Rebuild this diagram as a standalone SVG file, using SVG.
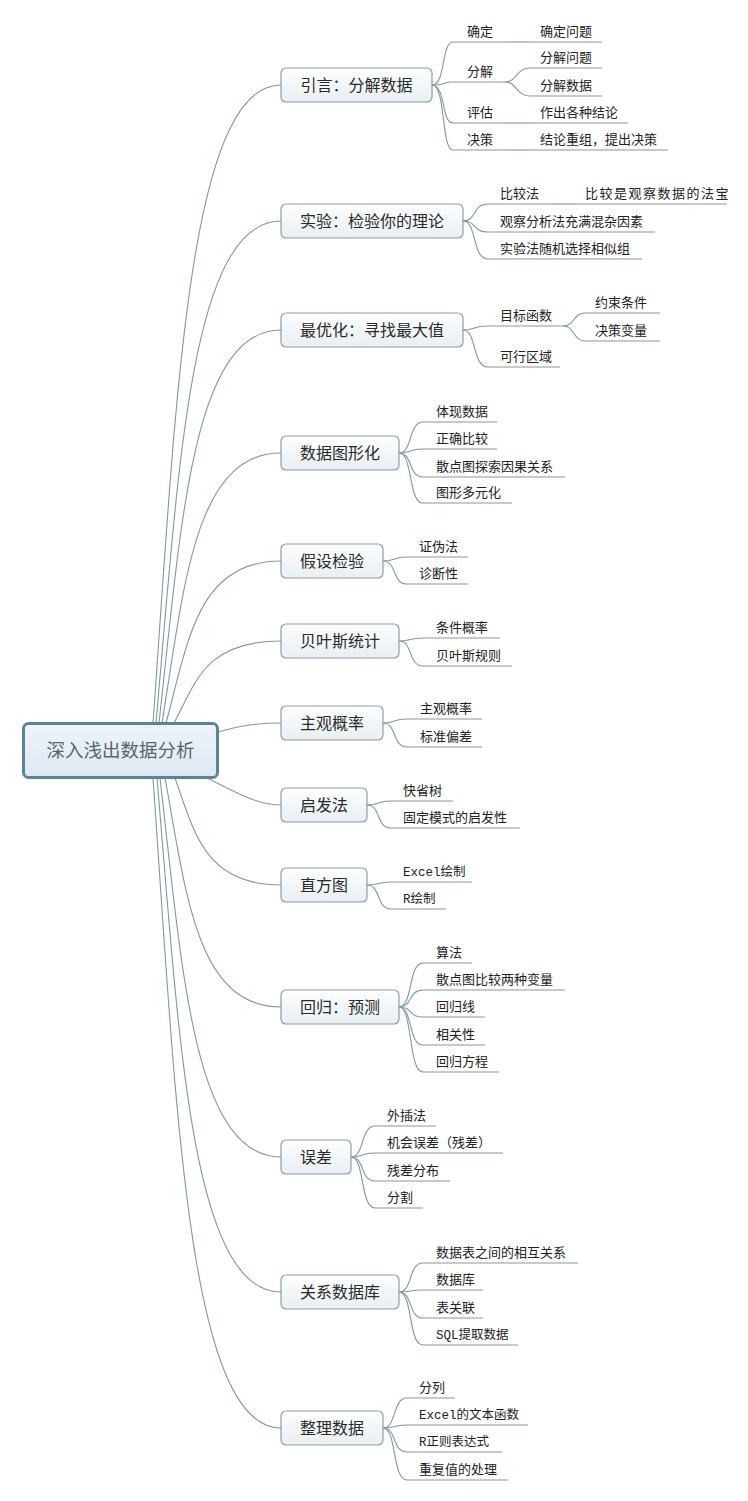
<svg xmlns="http://www.w3.org/2000/svg" width="748" height="1501" viewBox="0 0 748 1501">
<defs>
<linearGradient id="g1" x1="0" y1="0" x2="0" y2="1"><stop offset="0" stop-color="#fdfefe"/><stop offset="1" stop-color="#e8eef2"/></linearGradient>
<linearGradient id="g0" x1="0" y1="0" x2="0" y2="1"><stop offset="0" stop-color="#eef4fa"/><stop offset="1" stop-color="#dde8f2"/></linearGradient>
</defs>
<style>
text{font-family:"Noto Sans CJK SC","Noto Sans",sans-serif;fill:#222}
.b1{fill:url(#g1);stroke:#8a9ea8;stroke-width:1.2}
.t1{font-size:16px;fill:#2a2a2a;text-anchor:middle}
.t2{font-size:13px}
.m{font-family:"Liberation Mono","Noto Sans CJK SC",monospace;font-size:12.5px}
.u{stroke:#8a989e;stroke-width:1.2;fill:none}
.c{stroke:#7f99a3;stroke-width:1.1;fill:none}
</style>
<rect width="748" height="1501" fill="#fff"/>
<g id="connectors">
<path class="c" d="M153,723 C176,404 187.6,85 281,85"/>
<path class="c" d="M156,723 C178.5,472 189.8,221 281,221"/>
<path class="c" d="M159,723 C181,526 192,330 281,330"/>
<path class="c" d="M162,723 C184,588 194,453 281,453"/>
<path class="c" d="M166,723 C188,642 197,561 281,561"/>
<path class="c" d="M174,723 C196,682 205,641 281,641"/>
<path class="c" d="M218,732 C240,726 255,723 281,723"/>
<path class="c" d="M207,778 C230,789 255,805 281,805"/>
<path class="c" d="M175,778 C194,831 204,885 281,885"/>
<path class="c" d="M165,778 C186,892 196,1007 281,1007"/>
<path class="c" d="M160,778 C182,967 193,1157 281,1157"/>
<path class="c" d="M157,778 C179,1035 190.5,1292 281,1292"/>
<path class="c" d="M153,778 C176,1103 187.6,1428 281,1428"/>
<!-- level 2 -->
<path class="c" d="M432,85 C446,85 441,42 453,42"/>
<path class="c" d="M432,85 C446,85 441,82 453,82"/>
<path class="c" d="M432,85 C446,85 441,123 453,123"/>
<path class="c" d="M432,85 C446,85 441,150 453,150"/>
<path class="c" d="M463,221 C477,221 472,204 488,204"/>
<path class="c" d="M463,221 C477,221 472,232 488,232"/>
<path class="c" d="M463,221 C477,221 472,259 488,259"/>
<path class="c" d="M463,330 C477,330 472,326 488,326"/>
<path class="c" d="M463,330 C477,330 472,367 488,367"/>
<path class="c" d="M399,453 C413,453 408,422 423,422"/>
<path class="c" d="M399,453 C413,453 408,449 423,449"/>
<path class="c" d="M399,453 C413,453 408,477 423,477"/>
<path class="c" d="M399,453 C413,453 408,503 423,503"/>
<path class="c" d="M383,561 C397,561 392,557 407,557"/>
<path class="c" d="M383,561 C397,561 392,584 407,584"/>
<path class="c" d="M399,641 C413,641 408,638 423,638"/>
<path class="c" d="M399,641 C413,641 408,666 423,666"/>
<path class="c" d="M383,723 C397,723 392,719 407,719"/>
<path class="c" d="M383,723 C397,723 392,747 407,747"/>
<path class="c" d="M367,805 C381,805 376,801 391,801"/>
<path class="c" d="M367,805 C381,805 376,828 391,828"/>
<path class="c" d="M367,885 C381,885 376,882 391,882"/>
<path class="c" d="M367,885 C381,885 376,909 391,909"/>
<path class="c" d="M399,1007 C413,1007 408,963 423,963"/>
<path class="c" d="M399,1007 C413,1007 408,990 423,990"/>
<path class="c" d="M399,1007 C413,1007 408,1017 423,1017"/>
<path class="c" d="M399,1007 C413,1007 408,1045 423,1045"/>
<path class="c" d="M399,1007 C413,1007 408,1072 423,1072"/>
<path class="c" d="M351,1157 C365,1157 360,1126 375,1126"/>
<path class="c" d="M351,1157 C365,1157 360,1153 375,1153"/>
<path class="c" d="M351,1157 C365,1157 360,1181 375,1181"/>
<path class="c" d="M351,1157 C365,1157 360,1208 375,1208"/>
<path class="c" d="M399,1292 C413,1292 408,1263 423,1263"/>
<path class="c" d="M399,1292 C413,1292 408,1290 423,1290"/>
<path class="c" d="M399,1292 C413,1292 408,1318 423,1318"/>
<path class="c" d="M399,1292 C413,1292 408,1345 423,1345"/>
<path class="c" d="M383,1428 C397,1428 392,1398 407,1398"/>
<path class="c" d="M383,1428 C397,1428 392,1425 407,1425"/>
<path class="c" d="M383,1428 C397,1428 392,1452 407,1452"/>
<path class="c" d="M383,1428 C397,1428 392,1480 407,1480"/>
<!-- level 3 -->
<path class="c" d="M505,42 L530,42"/>
<path class="c" d="M505,82 C517,82 516,68 530,68"/>
<path class="c" d="M505,82 C517,82 516,96 530,96"/>
<path class="c" d="M505,123 L530,123"/>
<path class="c" d="M505,150 L530,150"/>
<path class="c" d="M549,204 L575,204"/>
<path class="c" d="M563,326 C575,326 573,313 585,313"/>
<path class="c" d="M563,326 C575,326 573,341 585,341"/>
</g>
<g id="root">
<rect x="23.5" y="723.5" width="194" height="54" rx="5" fill="url(#g0)" stroke="#5a8598" stroke-width="3"/>
<text x="120.5" y="757" style="font-size:18.5px;fill:#5f6366;text-anchor:middle">深入浅出数据分析</text>
</g>
<g id="n1"><rect class="b1" x="281" y="68" width="151" height="34" rx="5"/><text class="t1" x="356.5" y="91">引言：分解数据</text></g>
<g id="n1a"><path class="u" d="M453,42 H505"/><text class="t2" x="467" y="36">确定</text></g>
<g id="n1a1"><path class="u" d="M530,42 H602"/><text class="t2" x="540" y="36">确定问题</text></g>
<g id="n1b"><path class="u" d="M453,82 H505"/><text class="t2" x="467" y="76">分解</text></g>
<g id="n1b1"><path class="u" d="M530,68 H602"/><text class="t2" x="540" y="62">分解问题</text></g>
<g id="n1b2"><path class="u" d="M530,96 H602"/><text class="t2" x="540" y="90">分解数据</text></g>
<g id="n1c"><path class="u" d="M453,123 H505"/><text class="t2" x="467" y="117">评估</text></g>
<g id="n1c1"><path class="u" d="M530,123 H628"/><text class="t2" x="540" y="117">作出各种结论</text></g>
<g id="n1d"><path class="u" d="M453,150 H505"/><text class="t2" x="467" y="144">决策</text></g>
<g id="n1d1"><path class="u" d="M530,150 H668"/><text class="t2" x="540" y="144">结论重组，提出决策</text></g>

<g id="n2"><rect class="b1" x="281" y="204" width="182" height="34" rx="5"/><text class="t1" x="372" y="227">实验：检验你的理论</text></g>
<g id="n2a"><path class="u" d="M488,204 H549"/><text class="t2" x="500" y="198">比较法</text></g>
<g id="n2a1"><path class="u" d="M575,204 H727"/><text class="t2" x="585" y="198" letter-spacing="1.5">比较是观察数据的法宝</text></g>
<g id="n2b"><path class="u" d="M488,232 H655"/><text class="t2" x="500" y="226">观察分析法充满混杂因素</text></g>
<g id="n2c"><path class="u" d="M488,259 H642"/><text class="t2" x="500" y="253">实验法随机选择相似组</text></g>

<g id="n3"><rect class="b1" x="281" y="313" width="182" height="34" rx="5"/><text class="t1" x="372" y="336">最优化：寻找最大值</text></g>
<g id="n3a"><path class="u" d="M488,326 H563"/><text class="t2" x="500" y="320">目标函数</text></g>
<g id="n3a1"><path class="u" d="M585,313 H660"/><text class="t2" x="595" y="307">约束条件</text></g>
<g id="n3a2"><path class="u" d="M585,341 H660"/><text class="t2" x="595" y="335">决策变量</text></g>
<g id="n3b"><path class="u" d="M488,367 H560"/><text class="t2" x="500" y="361">可行区域</text></g>

<g id="n4"><rect class="b1" x="281" y="436" width="118" height="34" rx="5"/><text class="t1" x="340" y="459">数据图形化</text></g>
<g id="n4a"><path class="u" d="M423,422 H497"/><text class="t2" x="436" y="416">体现数据</text></g>
<g id="n4b"><path class="u" d="M423,449 H497"/><text class="t2" x="436" y="443">正确比较</text></g>
<g id="n4c"><path class="u" d="M423,477 H565"/><text class="t2" x="436" y="471">散点图探索因果关系</text></g>
<g id="n4d"><path class="u" d="M423,503 H512"/><text class="t2" x="436" y="497">图形多元化</text></g>

<g id="n5"><rect class="b1" x="281" y="544" width="102" height="34" rx="5"/><text class="t1" x="332" y="567">假设检验</text></g>
<g id="n5a"><path class="u" d="M407,557 H468"/><text class="t2" x="419" y="551">证伪法</text></g>
<g id="n5b"><path class="u" d="M407,584 H468"/><text class="t2" x="419" y="578">诊断性</text></g>

<g id="n6"><rect class="b1" x="281" y="624" width="118" height="34" rx="5"/><text class="t1" x="340" y="647">贝叶斯统计</text></g>
<g id="n6a"><path class="u" d="M423,638 H500"/><text class="t2" x="436" y="632">条件概率</text></g>
<g id="n6b"><path class="u" d="M423,666 H512"/><text class="t2" x="436" y="660">贝叶斯规则</text></g>

<g id="n7"><rect class="b1" x="281" y="706" width="102" height="34" rx="5"/><text class="t1" x="332" y="729">主观概率</text></g>
<g id="n7a"><path class="u" d="M407,719 H482"/><text class="t2" x="420" y="713">主观概率</text></g>
<g id="n7b"><path class="u" d="M407,747 H482"/><text class="t2" x="420" y="741">标准偏差</text></g>

<g id="n8"><rect class="b1" x="281" y="788" width="86" height="34" rx="5"/><text class="t1" x="324" y="811">启发法</text></g>
<g id="n8a"><path class="u" d="M391,801 H453"/><text class="t2" x="403" y="795">快省树</text></g>
<g id="n8b"><path class="u" d="M391,828 H520"/><text class="t2" x="403" y="822">固定模式的启发性</text></g>

<g id="n9"><rect class="b1" x="281" y="868" width="86" height="34" rx="5"/><text class="t1" x="324" y="891">直方图</text></g>
<g id="n9a"><path class="u" d="M391,882 H472"/><text class="t2 m" x="403" y="876">Excel绘制</text></g>
<g id="n9b"><path class="u" d="M391,909 H446"/><text class="t2 m" x="403" y="903">R绘制</text></g>

<g id="n10"><rect class="b1" x="281" y="990" width="118" height="34" rx="5"/><text class="t1" x="340" y="1013">回归：预测</text></g>
<g id="n10a"><path class="u" d="M423,963 H472"/><text class="t2" x="436" y="957">算法</text></g>
<g id="n10b"><path class="u" d="M423,990 H565"/><text class="t2" x="436" y="984">散点图比较两种变量</text></g>
<g id="n10c"><path class="u" d="M423,1017 H485"/><text class="t2" x="436" y="1011">回归线</text></g>
<g id="n10d"><path class="u" d="M423,1045 H485"/><text class="t2" x="436" y="1039">相关性</text></g>
<g id="n10e"><path class="u" d="M423,1072 H499"/><text class="t2" x="436" y="1066">回归方程</text></g>

<g id="n11"><rect class="b1" x="281" y="1140" width="70" height="34" rx="5"/><text class="t1" x="316" y="1163">误差</text></g>
<g id="n11a"><path class="u" d="M375,1126 H436"/><text class="t2" x="387" y="1120">外插法</text></g>
<g id="n11b"><path class="u" d="M375,1153 H503"/><text class="t2" x="387" y="1147">机会误差（残差）</text></g>
<g id="n11c"><path class="u" d="M375,1181 H450"/><text class="t2" x="387" y="1175">残差分布</text></g>
<g id="n11d"><path class="u" d="M375,1208 H423"/><text class="t2" x="387" y="1202">分割</text></g>

<g id="n12"><rect class="b1" x="281" y="1275" width="118" height="34" rx="5"/><text class="t1" x="340" y="1298">关系数据库</text></g>
<g id="n12a"><path class="u" d="M423,1263 H578"/><text class="t2" x="436" y="1257">数据表之间的相互关系</text></g>
<g id="n12b"><path class="u" d="M423,1290 H483"/><text class="t2" x="436" y="1284">数据库</text></g>
<g id="n12c"><path class="u" d="M423,1318 H483"/><text class="t2" x="436" y="1312">表关联</text></g>
<g id="n12d"><path class="u" d="M423,1345 H518"/><text class="t2 m" x="436" y="1339">SQL提取数据</text></g>

<g id="n13"><rect class="b1" x="281" y="1411" width="102" height="34" rx="5"/><text class="t1" x="332" y="1434">整理数据</text></g>
<g id="n13a"><path class="u" d="M407,1398 H455"/><text class="t2" x="419" y="1392">分列</text></g>
<g id="n13b"><path class="u" d="M407,1425 H528"/><text class="t2 m" x="419" y="1419">Excel的文本函数</text></g>
<g id="n13c"><path class="u" d="M407,1452 H502"/><text class="t2 m" x="419" y="1446">R正则表达式</text></g>
<g id="n13d"><path class="u" d="M407,1480 H508"/><text class="t2" x="419" y="1474">重复值的处理</text></g>
</svg>
